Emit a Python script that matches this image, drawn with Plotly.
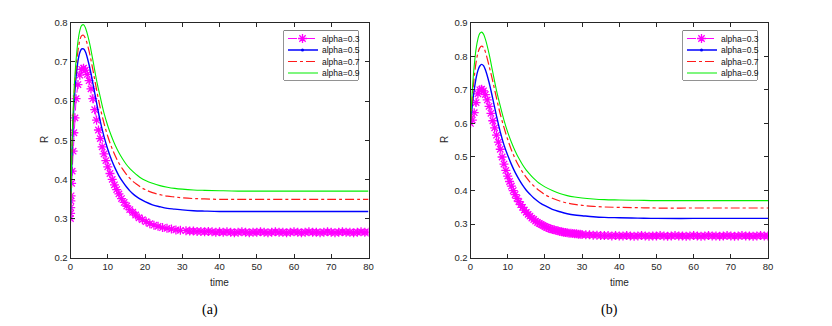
import plotly.graph_objects as go

# time grid for the smooth curves (both panels)
t_line = [0, 0.25, 0.5, 0.75, 1, 1.5, 2, 2.5, 3, 3.5, 4, 5, 6, 7, 8, 9, 10, 11, 12, 13,
          14, 15, 16, 17, 18, 19, 20, 22, 24, 26, 28, 30, 33, 36, 40, 45, 50, 60, 70, 80]

# panel (a)
a_green = [0.300, 0.420, 0.520, 0.585, 0.635, 0.705, 0.752, 0.780, 0.793, 0.795, 0.787, 0.753,
           0.705, 0.653, 0.610, 0.569, 0.537, 0.510, 0.487, 0.468, 0.452, 0.438, 0.427, 0.418,
           0.410, 0.403, 0.398, 0.390, 0.384, 0.380, 0.377, 0.375, 0.373, 0.372, 0.371, 0.370,
           0.370, 0.370, 0.370, 0.370]
a_red = [0.300, 0.410, 0.505, 0.570, 0.618, 0.685, 0.728, 0.755, 0.767, 0.768, 0.760, 0.727,
         0.680, 0.629, 0.582, 0.543, 0.510, 0.483, 0.460, 0.441, 0.426, 0.413, 0.402, 0.393,
         0.386, 0.379, 0.374, 0.366, 0.361, 0.357, 0.355, 0.353, 0.351, 0.350, 0.349, 0.349,
         0.349, 0.349, 0.349, 0.349]
a_blue = [0.300, 0.400, 0.490, 0.555, 0.600, 0.662, 0.702, 0.724, 0.733, 0.733, 0.726, 0.692,
          0.646, 0.595, 0.548, 0.509, 0.477, 0.450, 0.428, 0.409, 0.394, 0.381, 0.370, 0.361,
          0.354, 0.348, 0.343, 0.335, 0.330, 0.326, 0.324, 0.322, 0.320, 0.319, 0.318, 0.318,
          0.318, 0.318, 0.318, 0.318]
a_mag_t = [0, 0.02, 0.05, 0.1, 0.15, 0.3, 0.45, 0.7, 0.9, 1.2, 1.5, 2.0, 2.5, 3.0, 3.5, 4.0,
           4.5, 5.0, 5.5, 6.0, 6.5, 7.0, 7.5, 8.0, 8.5, 9.0, 9.5, 10.0, 10.6, 11.2, 11.8, 12.4,
           13.0, 13.7, 14.4, 15.1, 15.9, 16.7, 17.5, 18.4, 19.3, 20.3, 21.3, 22.4, 23.5, 24.7,
           25.9, 27.1, 28.3, 29.5,
           31, 32, 33, 34, 35, 36, 37, 38, 39, 40, 41, 42, 43, 44, 45, 46, 47, 48, 49, 50,
           51, 52, 53, 54, 55, 56, 57, 58, 59, 60, 61, 62, 63, 64, 65, 66, 67, 68, 69, 70,
           71, 72, 73, 74, 75, 76, 77, 78, 79, 80]
a_mag = [0.300, 0.313, 0.328, 0.345, 0.358, 0.390, 0.421, 0.472, 0.519, 0.557, 0.606, 0.642,
         0.666, 0.681, 0.684, 0.679, 0.668, 0.652, 0.631, 0.606, 0.578, 0.551, 0.526, 0.504,
         0.483, 0.465, 0.448, 0.432, 0.415, 0.400, 0.386, 0.374, 0.363, 0.351, 0.341, 0.332,
         0.323, 0.316, 0.309, 0.302, 0.297, 0.292, 0.287, 0.283, 0.280, 0.277, 0.275, 0.273,
         0.271, 0.270,
         0.269, 0.268, 0.268, 0.267, 0.267, 0.266, 0.267, 0.266, 0.265, 0.266,
         0.265, 0.266, 0.265, 0.264, 0.265, 0.266, 0.265, 0.264, 0.265, 0.265,
         0.266, 0.265, 0.264, 0.265, 0.266, 0.265, 0.265, 0.264, 0.265, 0.266,
         0.265, 0.264, 0.265, 0.266, 0.265, 0.265, 0.264, 0.265, 0.266, 0.265,
         0.264, 0.265, 0.266, 0.265, 0.265, 0.264, 0.265, 0.266, 0.265, 0.265]

# panel (b)
b_green = [0.600, 0.655, 0.700, 0.740, 0.772, 0.822, 0.852, 0.868, 0.872, 0.866, 0.851, 0.807,
           0.752, 0.698, 0.652, 0.610, 0.574, 0.544, 0.518, 0.496, 0.477, 0.461, 0.448, 0.436,
           0.426, 0.418, 0.411, 0.400, 0.391, 0.385, 0.381, 0.378, 0.375, 0.373, 0.372, 0.371,
           0.370, 0.370, 0.370, 0.370]
b_red = [0.600, 0.640, 0.676, 0.710, 0.738, 0.782, 0.810, 0.825, 0.830, 0.826, 0.813, 0.771,
         0.725, 0.675, 0.628, 0.588, 0.552, 0.521, 0.495, 0.473, 0.455, 0.439, 0.425, 0.414,
         0.404, 0.396, 0.388, 0.377, 0.369, 0.363, 0.359, 0.356, 0.353, 0.351, 0.350, 0.349,
         0.348, 0.348, 0.348, 0.348]
b_blue = [0.600, 0.628, 0.655, 0.680, 0.700, 0.735, 0.758, 0.771, 0.776, 0.772, 0.760, 0.722,
          0.673, 0.622, 0.575, 0.536, 0.505, 0.478, 0.454, 0.434, 0.416, 0.401, 0.389, 0.378,
          0.369, 0.361, 0.355, 0.344, 0.337, 0.331, 0.327, 0.325, 0.322, 0.320, 0.319, 0.318,
          0.317, 0.317, 0.317, 0.317]
b_mag_t = [0, 0.5, 1.0, 1.5, 2.0, 2.5, 3.0, 3.5, 4.0, 4.5, 5.0, 5.5, 6.0, 6.5, 7.0, 7.5, 8.0,
           8.5, 9.0, 9.5, 10.0, 10.5, 11.0, 11.5, 12.0, 12.5, 13.0, 13.5, 14.0, 14.5, 15.0,
           15.5, 16.0, 16.5, 17.0, 17.5, 18.0, 18.5, 19.0, 19.5, 20.0, 20.5, 21.0, 21.5, 22.0,
           22.5, 23.0, 23.5, 24.0, 24.5, 25.0, 25.5, 26.0, 26.5, 27.0, 27.5, 28.0, 28.5, 29.0,
           29.5, 30.0,
           31, 32, 33, 34, 35, 36, 37, 38, 39, 40, 41, 42, 43, 44, 45, 46, 47, 48, 49, 50,
           51, 52, 53, 54, 55, 56, 57, 58, 59, 60, 61, 62, 63, 64, 65, 66, 67, 68, 69, 70,
           71, 72, 73, 74, 75, 76, 77, 78, 79, 80]
b_mag = [0.600, 0.610, 0.632, 0.662, 0.688, 0.700, 0.702, 0.697, 0.686, 0.670, 0.651, 0.630,
         0.608, 0.587, 0.565, 0.544, 0.523, 0.500, 0.479, 0.460, 0.443, 0.427, 0.413, 0.400,
         0.388, 0.377, 0.367, 0.358, 0.350, 0.342, 0.335, 0.329, 0.324, 0.318, 0.314, 0.309,
         0.305, 0.302, 0.299, 0.296, 0.293, 0.290, 0.288, 0.286, 0.284, 0.283, 0.281, 0.280,
         0.278, 0.277, 0.276, 0.275, 0.274, 0.273, 0.273, 0.272, 0.271, 0.271, 0.270, 0.270,
         0.269,
         0.268, 0.268, 0.267, 0.267, 0.266, 0.266, 0.266, 0.265, 0.266, 0.265,
         0.265, 0.266, 0.265, 0.264, 0.265, 0.266, 0.265, 0.264, 0.265, 0.265,
         0.266, 0.265, 0.264, 0.265, 0.266, 0.265, 0.265, 0.264, 0.265, 0.266,
         0.265, 0.264, 0.265, 0.266, 0.265, 0.265, 0.264, 0.265, 0.266, 0.265,
         0.264, 0.265, 0.266, 0.265, 0.265, 0.264, 0.265, 0.266, 0.265, 0.265]

labels = ['alpha=0.3', 'alpha=0.5', 'alpha=0.7', 'alpha=0.9']
x_ticks = [0, 10, 20, 30, 40, 50, 60, 70, 80]

AXC = '#262626'
FONT = 'Liberation Sans, Arial, sans-serif'
SERIF = 'Liberation Serif, Times New Roman, serif'
# page body has an 8px margin, so the figure is 16px smaller than the window
OFF = 8
W, H = 832 - 2 * OFF, 326 - 2 * OFF

MAG = dict(color='#ff00ff', width=1, dash='dash')
MAG_MK = dict(symbol='asterisk-open', size=7.5, color='#ff00ff',
              line=dict(color='#ff00ff', width=1.3))
BLUE = dict(color='#0000ff', width=1.4)
RED = dict(color='#ff1a1a', width=1.2, dash='dashdot')
GREEN = dict(color='#00ee00', width=1.1)


def px_x(p):
    return (p - OFF) / W


def px_y(p):
    return 1 - (p - OFF) / H


fig = go.Figure()

panels = [
    ('x', 'y', a_mag_t, a_mag, a_blue, a_red, a_green),
    ('x2', 'y2', b_mag_t, b_mag, b_blue, b_red, b_green),
]
for xa, ya, mt, mv, blue, red, green in panels:
    fig.add_trace(go.Scatter(x=mt, y=mv, xaxis=xa, yaxis=ya, name=labels[0],
                             mode='lines+markers', line=MAG, marker=MAG_MK))
    fig.add_trace(go.Scatter(x=t_line, y=blue, xaxis=xa, yaxis=ya, name=labels[1],
                             mode='lines', line=dict(BLUE, shape='spline')))
    fig.add_trace(go.Scatter(x=t_line, y=red, xaxis=xa, yaxis=ya, name=labels[2],
                             mode='lines', line=dict(RED, shape='spline')))
    fig.add_trace(go.Scatter(x=t_line, y=green, xaxis=xa, yaxis=ya, name=labels[3],
                             mode='lines', line=dict(GREEN, shape='spline')))

# legend boxes (MATLAB style, drawn on their own small axes)
leg_rows = [7.8, 19.3, 30.8, 42.3]
leg_styles = [(MAG, MAG_MK), (BLUE, dict(size=3, color='#0000ff')), (RED, None), (GREEN, None)]
annots = []
shapes = []
for xa, ya in [('x3', 'y3'), ('x4', 'y4')]:
    for row, lab, (ln, mk) in zip(leg_rows, labels, leg_styles):
        fig.add_trace(go.Scatter(x=[4, 34], y=[row, row], xaxis=xa, yaxis=ya,
                                 mode='lines', line=ln, hoverinfo='skip'))
        if mk is not None:
            fig.add_trace(go.Scatter(x=[18.5], y=[row], xaxis=xa, yaxis=ya,
                                     mode='markers', marker=mk, hoverinfo='skip'))
        annots.append(dict(text=lab, x=35.5, y=row, xref=xa, yref=ya, xanchor='left',
                           yanchor='middle', showarrow=False,
                           font=dict(family=FONT, size=8.5, color='#111111')))
    shapes.append(dict(type='rect', xref=xa + ' domain', yref=ya + ' domain', x0=0, x1=1,
                       y0=0, y1=1, line=dict(color=AXC, width=1), fillcolor='white',
                       layer='below'))

axis_common = dict(showline=True, linecolor=AXC, linewidth=1, mirror='ticks', ticks='inside',
                   ticklen=4, tickcolor=AXC, showgrid=False, zeroline=False, automargin=False,
                   tickfont=dict(family=FONT, size=9.5, color=AXC))
hidden = dict(visible=False, showgrid=False, zeroline=False, automargin=False)

ydom = [px_y(257.7), px_y(22.7)]
leg_ydom = [px_y(80), px_y(30.7)]

fig.update_layout(
    width=W, height=H,
    margin=dict(l=0, r=0, t=0, b=0),
    paper_bgcolor='white', plot_bgcolor='white',
    showlegend=False,
    xaxis=dict(domain=[px_x(70.5), px_x(368.5)], range=[0, 80], tickvals=x_ticks, anchor='y',
               **axis_common),
    yaxis=dict(domain=ydom, range=[0.2, 0.8], dtick=0.1, tickformat='.1f', anchor='x',
               **axis_common),
    xaxis2=dict(domain=[px_x(470.5), px_x(768)], range=[0, 80], tickvals=x_ticks, anchor='y2',
                **axis_common),
    yaxis2=dict(domain=ydom, range=[0.2, 0.9], dtick=0.1, tickformat='.1f', anchor='x2',
                **axis_common),
    xaxis3=dict(domain=[px_x(284), px_x(358)], range=[0, 74], anchor='y3', **hidden),
    yaxis3=dict(domain=leg_ydom, range=[49.3, 0], anchor='x3', **hidden),
    xaxis4=dict(domain=[px_x(683), px_x(757)], range=[0, 74], anchor='y4', **hidden),
    yaxis4=dict(domain=leg_ydom, range=[49.3, 0], anchor='x4', **hidden),
)

for cx, ylx in [(219.5, 44), (619, 444)]:
    annots.append(dict(text='time', x=px_x(cx), y=px_y(282), xref='paper', yref='paper',
                       xanchor='center', yanchor='middle', showarrow=False,
                       font=dict(family=FONT, size=10, color=AXC)))
    annots.append(dict(text='R', x=px_x(ylx), y=px_y(140), xref='paper', yref='paper',
                       xanchor='center', yanchor='middle', showarrow=False, textangle=-90,
                       font=dict(family=FONT, size=10, color=AXC)))
for cx, cap in [(209.5, '(a)'), (609, '(b)')]:
    annots.append(dict(text=cap, x=px_x(cx), y=px_y(310), xref='paper', yref='paper',
                       xanchor='center', yanchor='middle', showarrow=False,
                       font=dict(family=SERIF, size=14, color='#000000')))

fig.update_layout(annotations=annots, shapes=shapes)

fig.write_html("out.html")
